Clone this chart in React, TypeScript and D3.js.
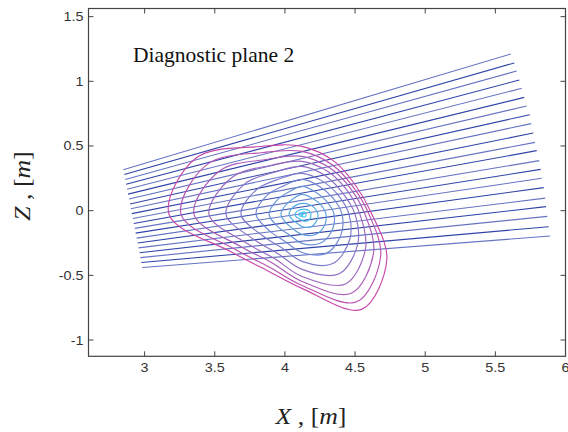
import React from "react";
import * as d3 from "d3";

// Axis ticks / domains
const xTicks = [3, 3.5, 4, 4.5, 5, 5.5, 6];
const yTicks = [-1, -0.5, 0, 0.5, 1, 1.5];
const xDomain = [2.6, 6];
const zDomain = [-1.126, 1.563];

// Lines of sight (chords): start and end points [m]
const chordX0 = [2.848, 2.855, 2.862, 2.868, 2.875, 2.882, 2.889, 2.896, 2.902, 2.909, 2.916, 2.923, 2.93, 2.936, 2.943, 2.95, 2.957, 2.964, 2.97, 2.977, 2.984];
const chordZ0 = [0.317, 0.279, 0.241, 0.204, 0.166, 0.128, 0.09, 0.052, 0.015, -0.023, -0.061, -0.099, -0.137, -0.174, -0.212, -0.25, -0.288, -0.326, -0.363, -0.401, -0.439];
const chordX1 = [5.609, 5.635, 5.652, 5.671, 5.688, 5.706, 5.723, 5.745, 5.756, 5.77, 5.783, 5.795, 5.813, 5.823, 5.83, 5.845, 5.856, 5.861, 5.87, 5.88, 5.89];
const chordZ1 = [1.211, 1.142, 1.08, 1.01, 0.946, 0.876, 0.809, 0.742, 0.673, 0.6, 0.528, 0.464, 0.387, 0.319, 0.25, 0.178, 0.097, 0.031, -0.044, -0.124, -0.196];

// Flux surfaces: magnetic axis and radii [m] along 12 directions (deg), inner -> outer
const axisX = 4.122;
const axisZ = -0.029;
const dirAngles = [0, 30, 60, 90, 120, 150, 180, 210, 240, 270, 300, 330];
const r000 = [0.029, 0.064, 0.114, 0.171, 0.228, 0.285, 0.335, 0.378, 0.413, 0.449, 0.478, 0.499];
const r030 = [0.029, 0.058, 0.102, 0.153, 0.203, 0.254, 0.298, 0.334, 0.371, 0.4, 0.422, 0.443];
const r060 = [0.023, 0.045, 0.091, 0.144, 0.197, 0.25, 0.295, 0.341, 0.379, 0.409, 0.439, 0.469];
const r090 = [0.015, 0.039, 0.085, 0.155, 0.217, 0.271, 0.317, 0.371, 0.41, 0.449, 0.487, 0.526];
const r120 = [0.015, 0.038, 0.083, 0.136, 0.197, 0.257, 0.318, 0.379, 0.439, 0.492, 0.553, 0.606];
const r150 = [0.022, 0.044, 0.087, 0.138, 0.211, 0.291, 0.378, 0.472, 0.574, 0.676, 0.778, 0.872];
const r180 = [0.021, 0.05, 0.093, 0.15, 0.235, 0.328, 0.435, 0.542, 0.663, 0.77, 0.862, 0.948];
const r210 = [0.022, 0.044, 0.08, 0.131, 0.196, 0.262, 0.327, 0.392, 0.451, 0.501, 0.545, 0.581];
const r240 = [0.015, 0.038, 0.076, 0.129, 0.182, 0.242, 0.295, 0.348, 0.394, 0.431, 0.469, 0.5];
const r270 = [0.015, 0.046, 0.093, 0.155, 0.224, 0.294, 0.363, 0.425, 0.48, 0.518, 0.549, 0.572];
const r300 = [0.023, 0.061, 0.114, 0.182, 0.257, 0.348, 0.439, 0.53, 0.621, 0.704, 0.78, 0.848];
const r330 = [0.029, 0.065, 0.116, 0.182, 0.247, 0.32, 0.392, 0.458, 0.523, 0.589, 0.647, 0.698];

const W = 568;
const H = 432;
const plot = { left: 88.5, right: 565.5, top: 8.5, bottom: 356.3 };

export default function App() {
  const x = d3.scaleLinear().domain(xDomain).range([plot.left, plot.right]);
  const y = d3.scaleLinear().domain(zDomain).range([plot.bottom, plot.top]);

  const radii = [r000, r030, r060, r090, r120, r150, r180, r210, r240, r270, r300, r330];
  const nC = r000.length;
  const color = d3
    .scaleLinear<string>()
    .domain([0, 0.45, 1])
    .range(["#3ec6f2", "#6f86d4", "#c848aa"]);

  const line = d3
    .line<[number, number]>()
    .x((d) => x(d[0]))
    .y((d) => y(d[1]))
    .curve(d3.curveCatmullRomClosed.alpha(0.5));

  const contours = d3.range(nC).map((i) => {
    const pts: [number, number][] = dirAngles.map((a, k) => {
      const t = (a * Math.PI) / 180;
      const r = radii[k][i];
      return [axisX + r * Math.cos(t), axisZ + r * Math.sin(t)];
    });
    return { d: line(pts) as string, c: color(i / (nC - 1)) };
  });

  const tickLen = 5;
  const axisColor = "#444";
  const labelColor = "#333";

  return (
    <svg
      width={W}
      height={H}
      style={{ position: "absolute", left: 0, top: 0, background: "#fff" }}
    >
      <rect x={0} y={0} width={W} height={H} fill="#fff" />
      {/* chords */}
      <g>
        {chordX0.map((_, i) => (
          <line
            key={"c" + i}
            x1={x(chordX0[i])}
            y1={y(chordZ0[i])}
            x2={x(chordX1[i])}
            y2={y(chordZ1[i])}
            stroke={i % 2 === 0 ? "#6473c2" : "#3044a8"}
            strokeWidth={1.1}
          />
        ))}
      </g>
      {/* flux surfaces */}
      <g fill="none">
        {contours.map((c, i) => (
          <path key={"f" + i} d={c.d} stroke={c.c} strokeWidth={1.15} />
        ))}
        <circle cx={x(axisX)} cy={y(axisZ)} r={1.5} fill="#3ec6f2" />
      </g>
      {/* frame */}
      <rect
        x={plot.left}
        y={plot.top}
        width={plot.right - plot.left}
        height={plot.bottom - plot.top}
        fill="none"
        stroke={axisColor}
        strokeWidth={1.2}
      />
      {xTicks.map((t) => (
        <g key={"xt" + t}>
          <line x1={x(t)} x2={x(t)} y1={plot.bottom} y2={plot.bottom - tickLen} stroke={axisColor} />
          <line x1={x(t)} x2={x(t)} y1={plot.top} y2={plot.top + tickLen} stroke={axisColor} />
          <text
            transform={`translate(${x(t)},${plot.bottom + 15.5}) scale(1.15,1)`}
            textAnchor="middle"
            fontFamily="Liberation Sans, Arial, sans-serif"
            fontSize={12.5}
            fill={labelColor}
          >
            {String(t)}
          </text>
        </g>
      ))}
      {yTicks.map((t) => (
        <g key={"yt" + t}>
          <line x1={plot.left} x2={plot.left + tickLen} y1={y(t)} y2={y(t)} stroke={axisColor} />
          <line x1={plot.right} x2={plot.right - tickLen} y1={y(t)} y2={y(t)} stroke={axisColor} />
          <text
            transform={`translate(${plot.left - 5},${y(t) + 4.5}) scale(1.15,1)`}
            textAnchor="end"
            fontFamily="Liberation Sans, Arial, sans-serif"
            fontSize={12.5}
            fill={labelColor}
          >
            {String(t)}
          </text>
        </g>
      ))}
      {/* annotation */}
      <text x={133} y={61.5} fontFamily="Liberation Serif, Times New Roman, serif" fontSize={21.5} fill="#111">
        Diagnostic plane 2
      </text>
      {/* axis labels */}
      <text
        transform={`translate(311,424) scale(1.12,1)`}
        textAnchor="middle"
        fontFamily="Liberation Serif, Times New Roman, serif"
        fontSize={23}
        fill="#222"
      >
        <tspan fontStyle="italic">X</tspan>
        <tspan> , [</tspan>
        <tspan fontStyle="italic">m</tspan>
        <tspan>]</tspan>
      </text>
      <text
        transform={`translate(30,186) rotate(-90) scale(1.12,1)`}
        textAnchor="middle"
        fontFamily="Liberation Serif, Times New Roman, serif"
        fontSize={23}
        fill="#222"
      >
        <tspan fontStyle="italic">Z</tspan>
        <tspan> , [</tspan>
        <tspan fontStyle="italic">m</tspan>
        <tspan>]</tspan>
      </text>
    </svg>
  );
}
